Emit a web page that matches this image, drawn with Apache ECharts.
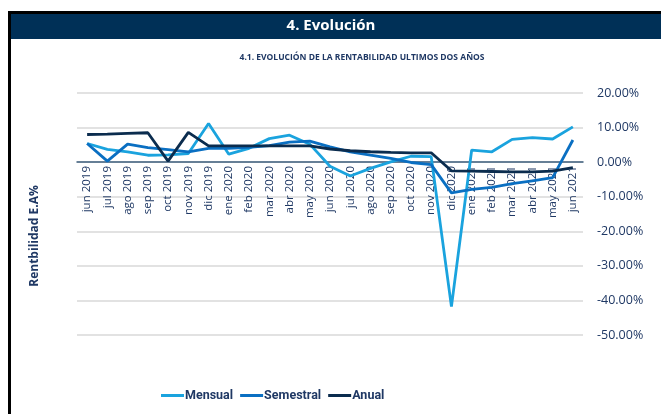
<!DOCTYPE html>
<html><head><meta charset="utf-8">
<script src="https://cdn.jsdelivr.net/npm/echarts@6/dist/echarts.min.js"></script>
<style>html,body{margin:0;padding:0;background:#fff}#c{width:661px;height:414px}</style>
</head><body><div id="c"></div>
<script>
const categories = ['jun 2019','jul 2019','ago 2019','sep 2019','oct 2019','nov 2019','dic 2019','ene 2020','feb 2020','mar 2020','abr 2020','may 2020','jun 2020','jul 2020','ago 2020','sep 2020','oct 2020','nov 2020','dic 2020','ene 2021','feb 2021','mar 2021','abr 2021','may 2021','jun 2021'];
const mensual   = [5.4, 3.7, 3.0, 2.0, 2.1, 2.5, 11.2, 2.3, 4.0, 6.8, 7.8, 5.2, -1.2, -4.0, -1.8, 0.1, 1.7, 1.6, -41.8, 3.5, 3.0, 6.6, 7.1, 6.7, 10.2];
const semestral = [5.4, 0.3, 5.2, 4.2, 3.6, 3.0, 4.0, 4.0, 4.3, 4.8, 5.8, 6.1, 4.4, 3.0, 2.0, 1.1, -0.1, -0.7, -8.9, -7.9, -7.3, -6.2, -5.4, -4.5, 6.4];
const anual     = [8.0, 8.1, 8.3, 8.5, 0.3, 8.6, 4.7, 4.7, 4.7, 4.7, 4.7, 4.7, 3.8, 3.3, 3.0, 2.8, 2.7, 2.7, -2.5, -2.6, -2.7, -2.8, -2.8, -2.6, -1.6];
const seriesNames = ['Mensual','Semestral','Anual'];
const colors = ['#1AA3DE','#0A6FC2','#0B2C4E'];
const navy = '#1F3864';

const chart = echarts.init(document.getElementById('c'), null, {renderer:'canvas'});
chart.setOption({
  animation:false,
  graphic:[
    {type:'rect', shape:{x:8,y:11,width:653,height:3}, style:{fill:'#000'}},
    {type:'rect', shape:{x:8,y:11,width:3,height:403}, style:{fill:'#000'}},
    {type:'rect', shape:{x:11,y:14,width:650,height:25}, style:{fill:'#003057'}},
    {type:'text', x:331, y:26, style:{text:'4. Evolución', fill:'#fff', font:'bold 15px "Open Sans", sans-serif', textAlign:'center', textVerticalAlign:'middle'}},
    {type:'text', x:362, y:58, style:{text:'4.1. EVOLUCIÓN DE LA RENTABILIDAD ULTIMOS DOS AÑOS', fill:navy, font:'bold 8.5px "Open Sans", sans-serif', textAlign:'center', textVerticalAlign:'middle'}},
    {type:'text', x:35, y:236, rotation:Math.PI/2, style:{text:'Rentbilidad E.A%', fill:navy, font:'bold 12px "Open Sans", sans-serif', textAlign:'center', textVerticalAlign:'middle'}}
  ],
  grid:{left:77, right:78, top:93, bottom:79},
  legend:{
    bottom:7, left:156, itemWidth:23, itemHeight:3, icon:'rect', itemGap:7,
    data:seriesNames,
    textStyle:{color:navy, fontWeight:'bold', fontSize:12.5, fontFamily:'Roboto, sans-serif', padding:[0,0,0,-4]}
  },
  xAxis:{
    type:'category', data:categories, boundaryGap:true, position:'bottom', offset:-173, z:0,
    axisLine:{onZero:false, lineStyle:{color:'#3E5F7E', width:1.5}},
    axisTick:{show:false},
    axisLabel:{rotate:90, interval:0, color:navy, fontSize:11.5, fontFamily:'"Open Sans", sans-serif', margin:4}
  },
  yAxis:{
    type:'value', position:'right', min:-50, max:20, interval:10,
    axisLine:{show:false}, axisTick:{show:false},
    splitLine:{lineStyle:{color:'#D9D9D9', width:1.5}},
    axisLabel:{color:navy, fontSize:12.5, fontFamily:'"Open Sans", sans-serif', margin:14, formatter:v=>v.toFixed(2)+'%'}
  },
  series:[
    {name:seriesNames[0], type:'line', z:5, data:mensual, symbol:'none', lineStyle:{width:2.8, color:colors[0]}, itemStyle:{color:colors[0]}},
    {name:seriesNames[1], type:'line', z:5, data:semestral, symbol:'none', lineStyle:{width:2.8, color:colors[1]}, itemStyle:{color:colors[1]}},
    {name:seriesNames[2], type:'line', z:5, data:anual, symbol:'none', lineStyle:{width:2.8, color:colors[2]}, itemStyle:{color:colors[2]}}
  ]
});
</script></body></html>
